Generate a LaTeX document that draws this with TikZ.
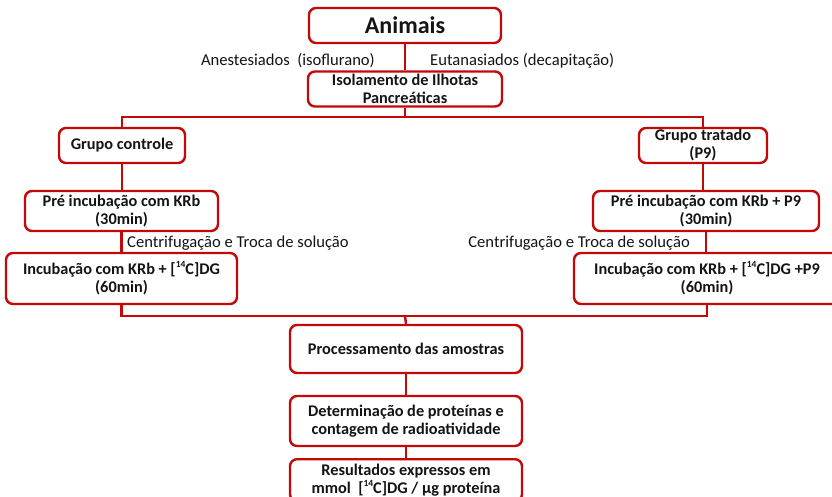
\documentclass[tikz,border=0pt]{standalone}
\usepackage{fontspec}
\setmainfont{Carlito}
\definecolor{boxred}{RGB}{196,8,8}
\definecolor{txt}{RGB}{20,20,20}
\newcommand{\isot}[1]{\raisebox{0.42em}{\fontsize{9.5}{9.5}\selectfont #1}}
\tikzset{
  box/.style={draw=boxred, line width=2.4pt, rounded corners=7pt, fill=white,
    align=center, text=txt, inner sep=0pt,
    font=\bfseries\fontsize{16.3}{18}\selectfont},
  conn/.style={draw=boxred, line width=2.4pt},
  lbl/.style={text=txt, inner sep=0pt, font=\fontsize{16.6}{18}\selectfont}
}
\begin{document}
\begin{tikzpicture}[x=1pt,y=-1pt]
\useasboundingbox (0,0) rectangle (832,496);
\clip (0,0) rectangle (832,496);
\fill[white] (0,0) rectangle (832,496);
% boxes
\node[box, minimum width=192pt, minimum height=35pt, font=\bfseries\fontsize{24}{26}\selectfont] (anim) at (405,25.5) {Animais};
\node[box, minimum width=194pt, minimum height=35pt] (isol) at (405,89) {Isolamento de Ilhotas\\Pancreáticas};
\node[box, minimum width=126pt, minimum height=35pt] (gc) at (122,145.5) {Grupo controle};
\node[box, minimum width=128pt, minimum height=35pt] (gt) at (703,145.5) {Grupo tratado\\(P9)};
\node[box, minimum width=193pt, minimum height=40pt] (prel) at (121.5,211) {Pré incubação com KRb\\(30min)};
\node[box, minimum width=226pt, minimum height=40pt] (prer) at (706,211) {Pré incubação com KRb + P9\\(30min)};
\node[box, minimum width=231pt, minimum height=51pt] (incl) at (121.5,278.5) {Incubação com KRb + [\isot{14}C]DG\\(60min)};
\node[box, minimum width=266pt, minimum height=51pt] (incr) at (707,278.5) {Incubação com KRb + [\isot{14}C]DG +P9\\(60min)};
\node[box, minimum width=232pt, minimum height=48pt] (proc) at (406,349) {Processamento das amostras};
\node[box, minimum width=232pt, minimum height=50pt] (det) at (406,421) {Determinação de proteínas e\\contagem de radioatividade};
\node[box, minimum width=232pt, minimum height=42pt, anchor=north] (res) at (406,458) {Resultados expressos em\\mmol\ \ [\isot{14}C]DG / µg proteína};
% coordinates
\coordinate (top) at (405,117);
\coordinate (bot) at (405,316);
% connectors
\draw[conn] (anim.south) -- (isol.north);
\draw[conn] (isol.south) -- (top);
\draw[conn] (gc.north) |- (top) -| (gt.north);
\draw[conn] (gc.south) -- (gc.south |- prel.north);
\draw[conn] (gt.south) -- (gt.south |- prer.north);
\draw[conn] (prel.south) -- (prel.south |- incl.north);
\draw[conn] (prer.south) -- (prer.south |- incr.north);
\draw[conn] (incl.south) |- (bot) -| (incr.south);
\draw[conn] (bot) -- (proc.north);
\draw[conn] (proc.south) -- (det.north);
\draw[conn] (det.south) -- (res.north);
% labels
\node[lbl, anchor=east] (la) at (375,61) {Anestesiados\ \ (isoflurano)};
\node[lbl, anchor=west] (lb) at (430,61) {Eutanasiados (decapitação)};
\node[lbl, anchor=west] (lc) at (127,243) {Centrifugação e Troca de solução};
\node[lbl, anchor=east] (ld) at (690,243) {Centrifugação e Troca de solução};
\end{tikzpicture}
\end{document}
